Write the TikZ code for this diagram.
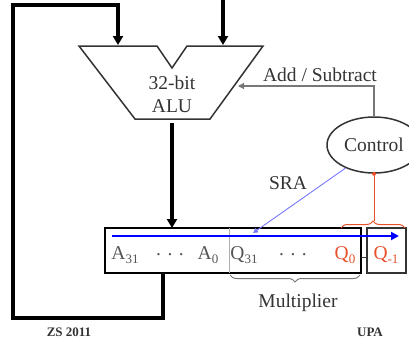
\documentclass[tikz,border=0pt]{standalone}
\usepackage{fontspec}
\setmainfont{Liberation Serif}
\usetikzlibrary{arrows.meta,shapes.geometric,decorations.pathreplacing}
\definecolor{txt}{HTML}{333333}
\definecolor{regtxt}{HTML}{555555}
\definecolor{redq}{HTML}{E8502A}
\definecolor{gline}{HTML}{777777}
\definecolor{lblue}{HTML}{7777FF}
\newcommand{\lowsub}[1]{\raisebox{-0.22em}{\fontsize{13}{13}\selectfont #1}}
\begin{document}
\begin{tikzpicture}[x=1pt,y=-1pt,
  lbl/.style={font=\fontsize{19.5}{23}\selectfont, text=txt, inner sep=0pt},
  busline/.style={line width=3.4pt, line join=miter, black},
  bigtip/.style={-{Triangle[width=10pt,length=9pt]}},
  foot/.style={font=\fontsize{13}{13}\selectfont\bfseries, text=txt, inner sep=0pt}]
\useasboundingbox (0,0) rectangle (409,343);
% ALU
\coordinate (tl) at (79,46);
\coordinate (n1) at (157,46);
\coordinate (nv) at (172,68);
\coordinate (n2) at (187,46);
\coordinate (tr) at (263,46);
\coordinate (br) at (210,119);
\coordinate (bl) at (135,119);
\draw[line width=1.5pt, txt] (tl)--(n1)--(nv)--(n2)--(tr)--(br)--(bl)--cycle;
\node[lbl, align=center] (alu) at (172,94) {32-bit\\ALU};
\coordinate (inA) at (118,45);
\coordinate (inB) at (223,45);
\coordinate (topB) at (223,0);
\coordinate (aluout) at (172,123);
\coordinate (addin) at (238,86);
% register
\node[draw, line width=2pt, minimum width=256pt, minimum height=45pt, inner sep=0pt] (reg) at (233,250.5) {};
\node[draw=txt, line width=1.2pt, minimum width=39pt, minimum height=45pt, inner sep=0pt] (qm) at (386.5,250.5) {};
\draw[gline!60, line width=1pt] (229,228) -- (229,273);
\coordinate (regin) at (172,228);
\coordinate (regout) at (163,273);
% control
\node[draw=txt, line width=1.5pt, ellipse, minimum width=94pt, minimum height=56pt, lbl] (ctrl) at (374,145) {Control};
% feedback
\draw[busline, bigtip] (regout) -- (163,318) -- (13,318) -- (13,5) -- (118,5) -- (inA);
\draw[busline, bigtip] (topB) -- (inB);
\draw[busline, bigtip] (aluout) -- (regin);
% add/subtract
\draw[gline, line width=1.1pt, -{Triangle[width=6pt,length=6pt]}] (ctrl.north) -- (374,86) -- (addin);
\node[lbl] (addsub) at (320,75) {Add / Subtract};
% blue shift arrow
\coordinate (bs) at (112,236);
\coordinate (be) at (399,236);
\draw[blue, line width=2.2pt, -{Triangle[width=8pt,length=8pt]}] (bs) -- (be);
\coordinate (sraend) at (253,233);
\draw[lblue, line width=0.9pt, -{Triangle[width=5pt,length=5pt]}] (ctrl.219) -- (sraend);
\node[lbl] (sra) at (288,183) {SRA};
% red brace
\fill[redq] (ctrl.south) circle (2pt);
\coordinate (rb) at (374,221);
\draw[redq, line width=1pt] (ctrl.south) -- (rb);
\draw[redq, line width=1pt, decorate, decoration={brace, amplitude=7pt}] (341,228) -- (405,228);
% connector reg - q-1
\coordinate (c1) at (361,257);
\coordinate (c2) at (367,257);
\draw[txt, line width=1pt] (c1) -- (c2);
% register texts
\node[lbl, text=regtxt] (a31) at (125,255) {A\lowsub{31}};
\node[lbl, text=regtxt] (d1) at (170,255) {. . .};
\node[lbl, text=regtxt] (a0) at (208,255) {A\lowsub{0}};
\node[lbl, text=regtxt] (q31) at (244,255) {Q\lowsub{31}};
\node[lbl, text=regtxt] (d2) at (293,255) {. . .};
\node[lbl, text=redq] (q0) at (345,255) {Q\lowsub{0}};
\node[lbl, text=redq] (qm1) at (386,255) {Q\lowsub{-1}};
% multiplier brace
\draw[gline, line width=1pt, decorate, decoration={brace, amplitude=7pt}] (360,275) -- (230,275);
\node[lbl] (mult) at (298,303) {Multiplier};
% footer
\node[foot] (zs) at (69,332) {ZS 2011};
\node[foot] (upa) at (370,332) {UPA};
\end{tikzpicture}
\end{document}
